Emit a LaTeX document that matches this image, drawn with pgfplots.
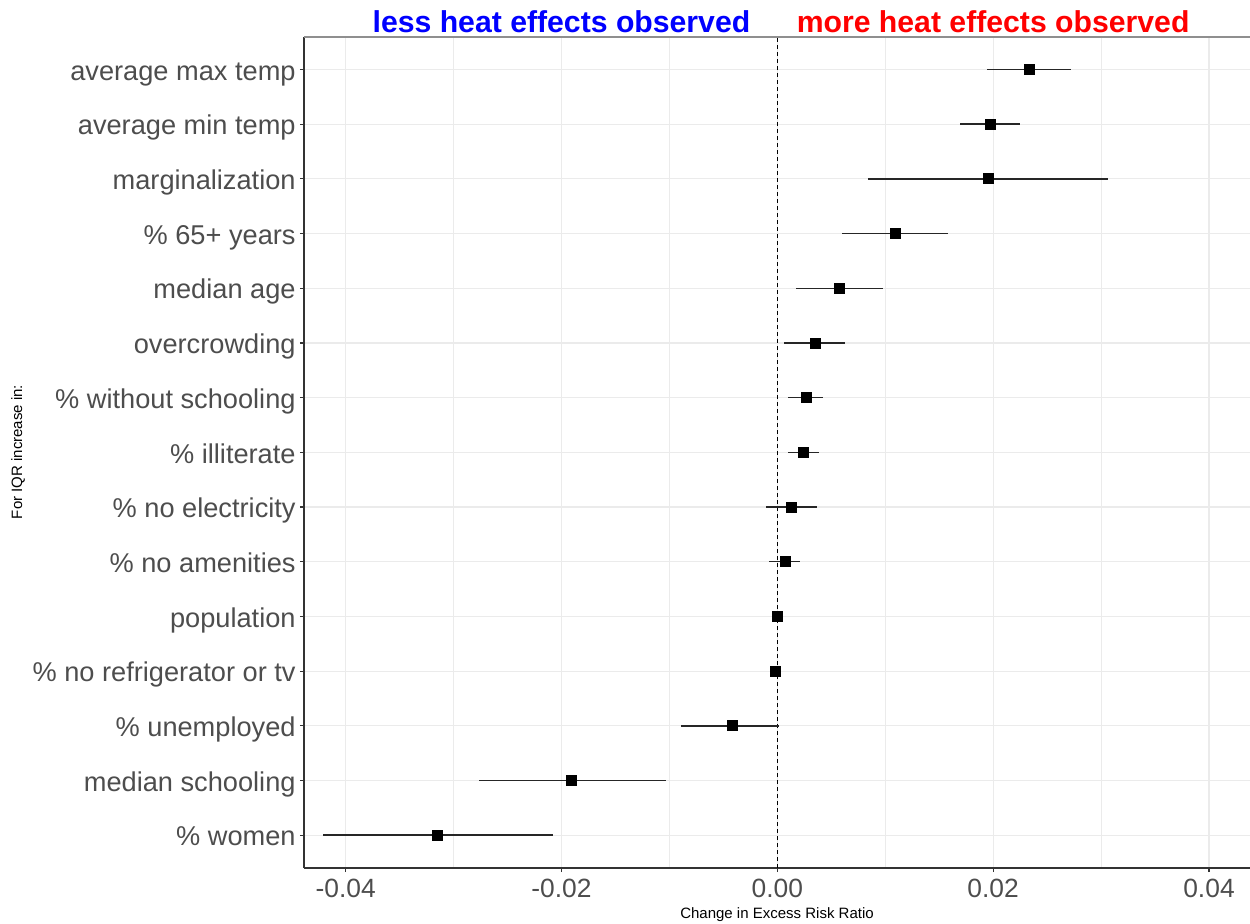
\documentclass[border=0pt]{standalone}
\usepackage{fontspec}
\setmainfont{Liberation Sans}
\usepackage{pgfplots}
\pgfplotsset{compat=1.18}
\usepackage{pgfplotstable}

\definecolor{tickgrey}{HTML}{4D4D4D}
\definecolor{gridgrey}{HTML}{EBEBEB}
\definecolor{axisdark}{HTML}{333333}
\definecolor{bargrey}{HTML}{262626}
\definecolor{topgrey}{HTML}{8F8F8F}
\definecolor{lessblue}{HTML}{0000FF}
\definecolor{morered}{HTML}{FF0000}

% change in excess risk ratio per IQR increase: estimate with 95% interval
\pgfplotstableread{
y   est       lo        hi
15  0.02338   0.01946   0.02719
14  0.01970   0.01690   0.02250
13  0.01956   0.00843   0.03068
12  0.01091   0.00602   0.01579
11  0.00575   0.00173   0.00977
10  0.00350   0.00060   0.00630
9   0.00270   0.00100   0.00420
8   0.00240   0.00100   0.00390
7   0.00127  -0.00105   0.00365
6   0.00071  -0.00074   0.00210
5   0.00000  -0.00020   0.00020
4  -0.00018  -0.00060   0.00015
3  -0.00420  -0.00890   0.00020
2  -0.01905  -0.02765  -0.01034
1  -0.03154  -0.04213  -0.02081
}\effects

\begin{document}
\begin{tikzpicture}
\useasboundingbox (0,0) rectangle (625bp,462bp);
\begin{axis}[
  at={(152bp,28bp)}, anchor=south west,
  scale only axis, width=473bp, height=415.65bp,
  xmin=-0.04386, xmax=0.0438, ymin=0.4, ymax=15.6,
  axis x line*=bottom, axis y line*=left,
  axis line style={axisdark, line width=0.55bp, -},
  xtick={-0.04,-0.02,0,0.02,0.04},
  xticklabels={-0.04,-0.02,0.00,0.02,0.04},
  minor xtick={-0.03,-0.01,0.01,0.03},
  ytick={1,...,15},
  yticklabels={\% women, median schooling, \% unemployed, \% no refrigerator or tv,
    population, \% no amenities, \% no electricity, \% illiterate,
    \% without schooling, overcrowding, median age, \% 65+ years,
    marginalization, average min temp, average max temp},
  tick align=outside, major tick length=2bp, minor tick length=0pt,
  tick style={axisdark, line width=0.55bp},
  xmajorgrids, xminorgrids, ymajorgrids,
  major grid style={gridgrey, line width=0.55bp},
  minor grid style={gridgrey, line width=0.45bp},
  xticklabel style={font=\fontsize{13.2bp}{15bp}\selectfont, text=tickgrey,
    anchor=base, yshift=-12.5bp},
  yticklabel style={font=\fontsize{13.6bp}{16bp}\selectfont, text=tickgrey,
    anchor=base east, inner sep=0pt, xshift=-2bp, yshift=-5.35bp},
  clip=false,
]
  % reference line at no change
  \addplot[black, line width=0.5bp, dash pattern=on 2bp off 1.5bp]
    coordinates {(0,0.4) (0,15.6)};
  % estimates with their intervals
  \addplot[only marks, mark=square*, mark size=2.5bp, black,
    error bars/.cd, x dir=both, x explicit, error mark=none,
    error bar style={line width=0.7bp, color=bargrey}]
    table[x=est, y=y,
      x error plus expr=\thisrow{hi}-\thisrow{est},
      x error minus expr=\thisrow{est}-\thisrow{lo}] {\effects};
  % upper panel border
  \draw[topgrey, line width=1bp] (rel axis cs:0,1) -- (rel axis cs:1,1);
  % direction labels
  \node[anchor=base, text=lessblue, font=\fontsize{15.1bp}{17bp}\selectfont\bfseries,
    inner sep=0pt, yshift=1.85bp] at (axis cs:-0.02,15.6) {less heat effects observed};
  \node[anchor=base, text=morered, font=\fontsize{15.1bp}{17bp}\selectfont\bfseries,
    inner sep=0pt, yshift=1.85bp] at (axis cs:0.02,15.6) {more heat effects observed};
\end{axis}
\node[anchor=base, inner sep=0pt, font=\fontsize{7.5bp}{9bp}\selectfont]
  at (388.5bp,3bp) {Change in Excess Risk Ratio};
\node[rotate=90, inner sep=0pt, font=\fontsize{7.5bp}{9bp}\selectfont]
  at (9bp,236bp) {For IQR increase in:};
\end{tikzpicture}
\end{document}
